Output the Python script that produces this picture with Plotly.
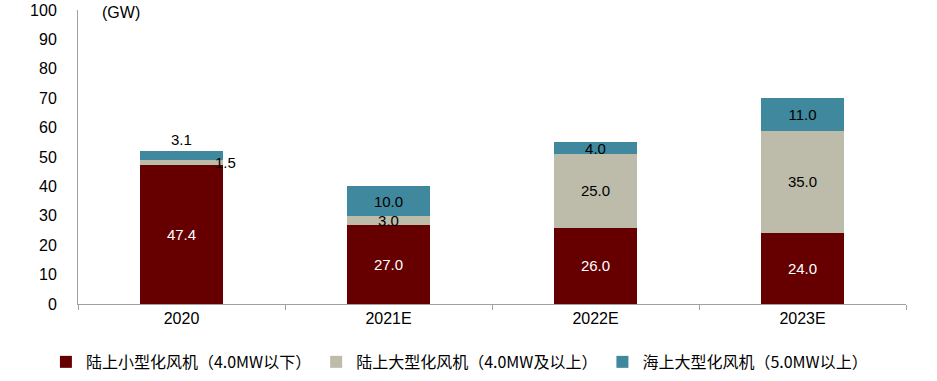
import plotly.graph_objects as go

categories = ["2020", "2021E", "2022E", "2023E"]
small_onshore = [47.4, 27.0, 26.0, 24.0]
large_onshore = [1.5, 3.0, 25.0, 35.0]
large_offshore = [3.1, 10.0, 4.0, 11.0]
series_names = ["陆上小型化风机（4.0MW以下）", "陆上大型化风机（4.0MW及以上）", "海上大型化风机（5.0MW以上）"]
colors = ["#660000", "#BDBBAA", "#3F889D"]
y_ticks = [0, 10, 20, 30, 40, 50, 60, 70, 80, 90, 100]

def labels(vals):
    # first category labels are drawn as annotations (outside the bar)
    return [""] + [f"{v:.1f}" for v in vals[1:]]

fig = go.Figure()
series = [small_onshore, large_onshore, large_offshore]
for i, vals in enumerate(series):
    fig.add_trace(go.Bar(
        x=categories, y=vals, name=series_names[i],
        marker=dict(color=colors[i], line=dict(width=0)),
        text=labels(vals) if i > 0 else [f"{v:.1f}" for v in vals],
        textposition="inside", insidetextanchor="middle",
        textfont=dict(size=15, color="white" if i == 0 else "black",
                      family="Liberation Sans"),
        textangle=0,
        cliponaxis=False,
    ))

# 2020 labels for the thin segments (category index 0)
idx = categories.index("2020")
base = small_onshore[idx]
fig.add_annotation(x=idx, y=base + large_onshore[idx] / 2,
                   text=f"{large_onshore[idx]:.1f}", showarrow=False,
                   xshift=44, font=dict(size=15, color="black", family="Liberation Sans"))
fig.add_annotation(x=idx, y=base + large_onshore[idx] + large_offshore[idx],
                   text=f"{large_offshore[idx]:.1f}", showarrow=False,
                   yanchor="bottom", yshift=1,
                   font=dict(size=15, color="black", family="Liberation Sans"))

fig.add_annotation(xref="paper", yref="paper", x=0.027, y=1.0, xanchor="left", yanchor="middle",
                   yshift=-2, text="(GW)", showarrow=False,
                   font=dict(size=16, color="black", family="Liberation Sans"))

fig.update_layout(
    width=937, height=381,
    margin=dict(l=78, r=31, t=10, b=77),
    barmode="stack", bargap=0.6,
    plot_bgcolor="white", paper_bgcolor="white",
    font=dict(family="Liberation Sans", size=16, color="black"),
    uniformtext=dict(minsize=15, mode="show"),
    showlegend=True,
    legend=dict(orientation="h", xref="container", yref="container",
                x=0.049, xanchor="left", y=0.05, yanchor="middle",
                font=dict(family="Noto Sans CJK SC", size=16, color="black"),
                itemwidth=30, tracegroupgap=0, traceorder="normal"),
    xaxis=dict(type="category", automargin=False, showline=True, linecolor="#A0A0A0", linewidth=1,
               ticks="outside", tickson="boundaries", ticklen=5, tickcolor="#A0A0A0",
               tickfont=dict(size=16), showgrid=False, zeroline=False),
    yaxis=dict(range=[0, 100], automargin=False, tickvals=y_ticks, showline=True, linecolor="#A0A0A0",
               linewidth=1, ticks="", showgrid=False, zeroline=False,
               tickfont=dict(size=16), ticklabelstandoff=17),
)

fig.write_html("out.html", config={"displayModeBar": False},
               post_script="document.body.style.margin='0';document.body.style.overflow='hidden';")
